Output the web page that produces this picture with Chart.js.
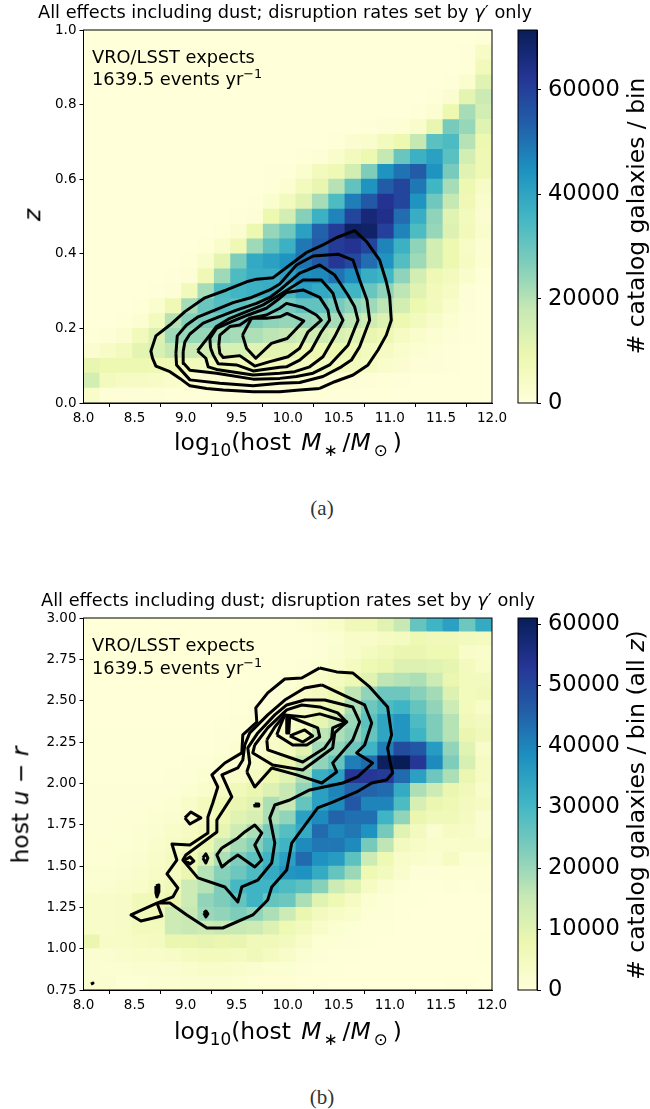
<!DOCTYPE html>
<html>
<head>
<meta charset="utf-8">
<title>Host galaxy maps</title>
<script src="https://cdn.jsdelivr.net/npm/chart.js@4"></script>
<style>
  html, body { margin: 0; padding: 0; background: #fff; }
  #page { position: relative; width: 650px; height: 1109px; overflow: hidden; font-family: "DejaVu Sans", sans-serif; color: #000; }
  canvas { position: absolute; }
  .t { position: absolute; white-space: nowrap; line-height: 1; }
  .title { font-size: 17.75px; }
  .note { font-size: 17.8px; }
  .axis { font-size: 23.4px; transform: translate(-50%, -50%); }
  .rot { font-size: 23.4px; transform: translate(-50%, -50%) rotate(-90deg); }
  .cap { font-family: "Liberation Serif", serif; font-size: 21px; transform: translate(-50%, -50%); color: #333; }
  sub { font-size: 72%; line-height: 0; }
  sup { font-size: 72%; line-height: 0; }
  .star { margin: 0 5px 0 2px; }
  .sun { margin: 0 5px 0 3px; }
  .gap { margin-left: 3px; }
</style>
</head>
<body>
<div id="page">
  <canvas id="mapA" style="left:0;top:0"></canvas>
  <canvas id="barA" style="left:510px;top:0"></canvas>
  <canvas id="mapB" style="left:0;top:588px"></canvas>
  <canvas id="barB" style="left:510px;top:588px"></canvas>

  <div class="t title" style="left:38px;top:4px">All effects including dust; disruption rates set by <i>γ</i>′ only</div>
  <div class="t note" style="left:92px;top:48px">VRO/LSST expects</div>
  <div class="t note" style="left:92px;top:70px">1639.5 events yr<sup>−1</sup></div>
  <div class="t axis" style="left:288px;top:443px">log<sub>10</sub>(host <i class="gap">M</i><sub class="star">∗</sub>/<i>M</i><sub class="sun">⊙</sub>)</div>
  <div class="t rot" style="left:33px;top:215px"><i>z</i></div>
  <div class="t rot" style="left:637px;top:216px"># catalog galaxies / bin</div>
  <div class="t cap" style="left:322px;top:508px">(a)</div>

  <div class="t title" style="left:41px;top:592px">All effects including dust; disruption rates set by <i>γ</i>′ only</div>
  <div class="t note" style="left:92px;top:636px">VRO/LSST expects</div>
  <div class="t note" style="left:92px;top:659px">1639.5 events yr<sup>−1</sup></div>
  <div class="t axis" style="left:288px;top:1032px">log<sub>10</sub>(host <i class="gap">M</i><sub class="star">∗</sub>/<i>M</i><sub class="sun">⊙</sub>)</div>
  <div class="t rot" style="left:21px;top:805px">host <i>u</i> − <i>r</i></div>
  <div class="t rot" style="left:637px;top:805px"># catalog galaxies / bin (all <i>z</i>)</div>
  <div class="t cap" style="left:322px;top:1097px">(b)</div>
</div>

<script>
// tick values
const massTicks = [8, 8.5, 9, 9.5, 10, 10.5, 11, 11.5, 12];
const zTicks = [0, 0.2, 0.4, 0.6, 0.8, 1];
const colorTicks = [0.75, 1, 1.25, 1.5, 1.75, 2, 2.25, 2.5, 2.75, 3];
const barTicksA = [0, 20000, 40000, 60000];
const barTicksB = [0, 10000, 20000, 30000, 40000, 50000, 60000];

// color limits of the two maps
const maxA = 71500;
const maxB = 61000;

// YlGnBu
const ylGnBu = ['#ffffd9', '#edf8b1', '#c7e9b4', '#7fcdbb', '#41b6c4', '#1d91c0', '#225ea8', '#253494', '#081d58'];

// catalog galaxies per bin in thousands, top row first
const countsA = [
  [0,0,0,0,0,0,0,0,0,0,0,0,0,0,0,0,0,0,0,0,0,0,0,0,.3],
  [0,0,0,0,0,0,0,0,0,0,0,0,0,0,0,0,0,0,0,0,0,0,0,.3,4],
  [0,0,0,0,0,0,0,0,0,0,0,0,0,0,0,0,0,0,0,0,0,0,0,.5,7],
  [0,0,0,0,0,0,0,0,0,0,0,0,0,0,0,0,0,0,0,0,0,0,.3,2.5,12],
  [0,0,0,0,0,0,0,0,0,0,0,0,0,0,0,0,0,0,0,0,0,.3,2,11,17],
  [0,0,0,0,0,0,0,0,0,0,0,0,0,0,0,0,0,0,0,0,.5,1.5,9,22,15],
  [0,0,0,0,0,0,0,0,0,0,0,0,0,0,0,0,0,.3,.8,1.2,3,10,28,24,12],
  [0,0,0,0,0,0,0,0,0,0,0,0,0,0,0,.5,2,3,6,9,18,32,34,20,9],
  [0,0,0,0,0,0,0,0,0,0,0,0,0,.5,1,3,6,9,18,30,37,41,32,15,8],
  [0,0,0,0,0,0,0,0,0,0,0,.3,.5,2.5,6,8,15,27,44,50,54,44,28,12,8],
  [0,0,0,0,0,0,0,0,0,0,0,.5,1.5,6,10,20,31,44,54,59,49,36,22,9,4],
  [0,0,0,0,0,0,0,0,0,0,.5,2.5,6,12,22,34,48,55,63,59,44,29,18,8,3],
  [0,0,0,0,0,0,0,0,0,.3,1,9,15,26,37,47,59,67,64,51,38,25,12,6,2],
  [0,0,0,0,0,0,0,0,.5,2,9,24,29,41,53,61,70,69,60,47,34,24,13,7,3],
  [0,0,0,0,0,0,0,.5,3,8,23,31,37,49,54,61,63,59,47,37,25,15,9,4,1.5],
  [0,0,0,0,0,0,.5,3,11,27,39,41,44,50,55,62,58,51,44,33,23,15,9,5,1.5],
  [0,0,0,0,0,.3,1,8,23,34,38,38,41,45,46,50,45,38,36,25,15,8,6,3,.5],
  [0,0,0,0,.3,.8,7,22,34,36,37,38,35,41,39,38,36,30,25,19,12,7,5,1,0],
  [0,0,0,.5,2.5,8,22,30,33,32,30,30,28,31,31,28,25,23,19,15,9,6,3,.8,0],
  [0,0,.5,1.5,6,20,26,28,29,28,27,25,24,25,24,22,19,16,13,9,6,3.5,1.5,.5,0],
  [.5,1,2,7,13,23,24,24,23,22,21,19,18,16,16,14,12,10,8,5,3,1.5,.8,.3,0],
  [2,4,6,11,14,18,17,15,14,14,12,11,11,9,9,9,8,6,5,3,1.8,1,.5,0,0],
  [10,9,9,9,8,8,7,7,7,7,7,7,6,6,6,6,6,5,3,2,1,.8,.3,0,0],
  [15,6,5,5,4,3,2,2,2,2,2,2,1.5,1.5,1.5,1.2,1,.8,.5,.3,0,0,0,0,0],
  [3.5,1,1,.8,.8,.5,.5,.5,.5,.5,.5,.5,.5,.5,.4,.3,.3,.2,.2,0,0,0,0,0,0]
];

const countsB = [
  [.2,.2,.2,.2,.2,.2,.2,.2,.2,.2,.2,.2,.5,1,2,3,6,6.5,10,15,26,31,35,25,33],
  [.2,.2,.2,.2,.2,.2,.2,.2,.2,.2,.2,.2,.3,.4,.7,1.5,3,3,4,4.5,7,6,6,5,4.5],
  [.2,.2,.2,.2,.2,.2,.2,.2,.2,.2,.2,.2,.3,.4,1,2,3,4.5,6,8,8,7,7,3,2.5],
  [.2,.2,.2,.2,.2,.2,.2,.2,.2,.2,.2,.3,.5,.8,1.5,2.5,4.5,7,8,11,11,10,9,5,3],
  [.2,.2,.2,.2,.2,.2,.2,.2,.2,.2,.3,.5,1,2,3,4.5,7,10,16,17,18,14,8,5.5,5],
  [.2,.2,.2,.2,.2,.2,.2,.2,.2,.3,.5,.8,1.5,3,4.5,7,16,21,25,25,22,19,11,5.5,6],
  [.2,.2,.2,.2,.2,.2,.2,.2,.2,.4,.7,1.2,2,3.5,6,9,18,25,29,31,26,21,14,5.5,3],
  [.2,.2,.2,.2,.2,.2,.2,.2,.4,.6,1,1.8,2.5,4,9,14,20,27,34,37,29,23,17,6,5],
  [.3,.3,.3,.3,.3,.3,.3,.3,.6,1,1.5,2.5,3,6,16,18,21,26,34,37,31,23,17,8,6],
  [.3,.3,.3,.3,.3,.3,.3,.5,1,1.5,2,3,5,10,19,21,25,31,41,49,47,36,21,10,3],
  [.4,.4,.4,.4,.4,.4,.6,1,1.5,2,3,5,8,15,21,26,41,44,60,61,53,39,23,12,4],
  [.5,.5,.5,.5,.5,.6,1,1.5,2,3,4.5,7,10,18,32,35,53,53,52,44,35,25,18,8,4],
  [.6,.6,.6,.6,.6,.8,1.5,2.5,4,6,8,11,15,21,35,40,45,45,44,33,18,14,8,6,3],
  [.7,.7,.7,.7,1,1.5,3,5.5,7,8,10,18,15,26,35,39,47,40,40,29,12,8,7,5,4],
  [.8,.8,.9,1,1.5,2,3,4,7,10,12,18,21,35,39,45,43,43,31,21,8,6,6,4.5,2],
  [.8,.8,1,1.5,2,3,4,6,9,14,18,24,28,33,44,40,42,38,24,10,5,2,4,3.5,2],
  [1,1,1.2,1.5,2.5,3.5,5,8,14,19,22,28,31,39,42,42,39,24,16,5,3.5,2.5,2.5,3,3],
  [1,1,1.5,2,3,4.5,7,11,18,23,27,31,35,44,38,36,27,14,7,3,2.5,2,4,1.5,1.5],
  [1.5,1.5,2,2.5,3.5,4.5,8,17,22,25,29,33,37,38,33,26,20,7,5,2.5,.8,.8,1,1,1],
  [1.5,2,2.5,3,4.5,6,14,17,23,30,31,31,29,27,22,14,10,4,2,1,.5,.4,.8,.5,.7],
  [3,3,3.5,6,6.5,8,14,21,23,26,31,26,25,18,10,7,4,1.5,1,.5,.3,.2,.2,.2,.2],
  [3,3,3.5,6,6,14,15,20,21,23,21,18,14,8,5,3.5,2.5,1,.6,.3,.2,.2,.2,.2,.2],
  [3,3,3.5,5.5,5.5,14,15,14,15,15,14,11,7,5,3,1.5,1.2,.5,.3,.2,.1,.1,.1,.1,.1],
  [8,3.5,3.5,4,4.5,8,8,9,8,8.5,6,6,5,3,1.2,1,.8,.3,.2,.1,.1,.1,.1,.1,.5],
  [2,2,2.5,3,3,3.5,4.5,5.5,5.5,4.5,6,4.5,3,1.5,.8,.5,.4,.2,.1,.1,.1,.1,.1,.1,.5],
  [2,1.5,1.5,2,2,2,2.5,3,3,2.5,2,1.5,1.5,.8,.4,.3,.2,.1,.1,.1,.1,.1,.1,.1,.1],
  [2,2,1.2,1.2,1.5,1.5,2,2,2,1.5,1,1,1,.5,.3,.2,.1,.1,.1,.1,.1,.1,.3,.3,.1]
];

// contours, log mass / z pairs
const contoursA = [
  [[10.313,.039],[10.117,.035],[9.922,.03],[9.661,.03],[9.368,.035],[9.205,.039],[9.042,.046],[8.944,.066],[8.846,.084],[8.709,.099],[8.676,.12],[8.66,.139],[8.709,.18],[8.846,.209],[8.993,.245],[9.188,.282],[9.4,.303],[9.596,.325],[9.694,.332],[9.857,.336],[10.02,.37],[10.18,.403],[10.345,.424],[10.476,.443],[10.655,.462],[10.77,.433],[10.9,.383],[10.965,.325],[10.998,.285],[11.014,.222],[10.965,.182],[10.884,.142],[10.786,.102],[10.64,.075],[10.46,.057]],
  [[8.905,.133],[8.918,.18],[9.009,.209],[9.123,.231],[9.286,.249],[9.465,.269],[9.645,.283],[9.824,.303],[9.922,.319],[10.085,.37],[10.248,.394],[10.492,.399],[10.639,.383],[10.704,.33],[10.776,.276],[10.802,.222],[10.704,.151],[10.623,.115],[10.525,.097],[10.345,.071],[10.117,.055],[9.922,.053],[9.661,.046],[9.335,.053],[9.042,.062],[8.911,.102]],
  [[8.976,.138],[8.993,.164],[9.042,.185],[9.172,.214],[9.319,.23],[9.498,.249],[9.694,.267],[9.824,.283],[9.922,.303],[10.117,.348],[10.313,.37],[10.46,.343],[10.59,.289],[10.655,.258],[10.688,.222],[10.59,.155],[10.41,.102],[10.248,.08],[10.085,.071],[9.922,.066],[9.661,.064],[9.302,.08],[9.042,.088],[8.983,.106]],
  [[9.117,.14],[9.237,.182],[9.302,.205],[9.433,.227],[9.596,.245],[9.759,.263],[9.922,.29],[10.15,.33],[10.329,.33],[10.443,.294],[10.492,.249],[10.541,.222],[10.46,.178],[10.345,.124],[10.215,.097],[10.068,.084],[9.922,.08],[9.661,.075],[9.302,.09],[9.221,.097],[9.198,.12]],
  [[9.244,.147],[9.237,.173],[9.302,.2],[9.449,.218],[9.612,.236],[9.791,.254],[9.922,.281],[9.987,.296],[10.15,.303],[10.313,.283],[10.394,.249],[10.41,.222],[10.329,.191],[10.231,.142],[10.117,.115],[9.987,.097],[9.922,.096],[9.661,.086],[9.498,.102],[9.319,.105],[9.27,.129]],
  [[9.325,.155],[9.335,.182],[9.433,.205],[9.53,.209],[9.628,.227],[9.791,.236],[9.922,.254],[9.987,.267],[10.15,.256],[10.28,.236],[10.329,.222],[10.199,.191],[10.117,.147],[10.003,.124],[9.922,.118],[9.824,.111],[9.677,.099],[9.53,.127],[9.368,.122],[9.335,.133]],
  [[9.557,.182],[9.645,.227],[9.791,.227],[9.922,.231],[9.994,.24],[10.157,.22],[9.994,.173],[9.922,.167],[9.84,.16],[9.687,.12],[9.596,.147]]
];

// contours, log mass / host u-r pairs
const contoursB = [
  [[10.313,2.698],[10.479,2.674],[10.636,2.668],[10.802,2.583],[10.978,2.462],[11.017,2.293],[10.978,2.214],[10.998,2.141],[11.027,2.063],[10.968,2.02],[10.822,2.002],[10.675,1.948],[10.44,1.887],[10.293,1.851],[10.039,1.639],[9.99,1.476],[9.843,1.373],[9.804,1.294],[9.658,1.204],[9.364,1.125],[9.208,1.125],[9.012,1.204],[8.846,1.276],[8.719,1.276],[8.768,1.198],[8.562,1.167],[8.465,1.204],[8.719,1.276],[8.875,1.313],[8.924,1.367],[8.817,1.452],[8.914,1.536],[8.866,1.633],[9.042,1.627],[9.218,1.7],[9.218,1.797],[9.266,1.881],[9.315,1.978],[9.257,2.051],[9.384,2.123],[9.55,2.184],[9.56,2.293],[9.697,2.371],[9.687,2.456],[9.804,2.547],[9.971,2.631],[10.137,2.637]],
  [[10.333,2.595],[10.587,2.522],[10.753,2.474],[10.822,2.365],[10.753,2.232],[10.675,2.184],[10.831,2.123],[10.685,2.039],[10.538,2.002],[10.215,1.96],[10.02,1.899],[9.873,1.869],[9.824,1.791],[9.873,1.639],[9.843,1.518],[9.707,1.415],[9.55,1.373],[9.511,1.282],[9.384,1.373],[9.12,1.428],[8.973,1.536],[9.002,1.567],[9.306,1.706],[9.306,1.778],[9.452,1.918],[9.355,2.051],[9.511,2.093],[9.56,2.141],[9.579,2.232],[9.628,2.305],[9.804,2.414],[9.971,2.504],[10.166,2.577]],
  [[9.355,1.609],[9.511,1.67],[9.579,1.706],[9.677,1.748],[9.746,1.7],[9.677,1.627],[9.746,1.536],[9.677,1.494],[9.511,1.567],[9.413,1.524],[9.355,1.494],[9.306,1.567]],
  [[9.599,2.069],[9.628,2.123],[9.609,2.214],[9.707,2.305],[9.873,2.414],[9.99,2.474],[10.166,2.504],[10.362,2.504],[10.636,2.462],[10.704,2.371],[10.636,2.262],[10.44,2.123],[10.479,2.069],[10.333,2.002],[10.088,2.051],[9.843,2.093],[9.677,1.978]],
  [[9.677,2.232],[9.658,2.184],[9.853,2.111],[10.147,2.081],[10.44,2.214],[10.46,2.305],[10.577,2.371],[10.489,2.426],[10.313,2.462],[10.137,2.474],[9.99,2.444],[9.804,2.335]],
  [[9.795,2.262],[9.804,2.202],[10.147,2.129],[10.362,2.214],[10.43,2.274],[10.44,2.335],[10.577,2.371],[10.313,2.42],[10.166,2.402],[9.971,2.414],[9.873,2.341]],
  [[9.892,2.293],[10.049,2.232],[10.186,2.232],[10.313,2.281],[10.293,2.335],[10.098,2.383],[9.971,2.414],[9.922,2.341]],
  [[10.02,2.287],[10.166,2.323],[10.244,2.287],[10.147,2.25]],
  [[9.99,2.408],[10.02,2.408],[10.01,2.305],[9.99,2.305]],
  [[8.993,1.791],[9.051,1.827],[9.149,1.791],[9.042,1.754]],
  [[8.993,1.536],[9.042,1.555],[9.081,1.53],[9.042,1.512]],
  [[9.169,1.549],[9.198,1.573],[9.218,1.549],[9.198,1.518]],
  [[9.677,1.875],[9.716,1.875],[9.716,1.863],[9.677,1.863]],
  [[8.709,1.379],[8.738,1.385],[8.738,1.343],[8.719,1.313],[8.709,1.337]],
  [[9.178,1.216],[9.198,1.228],[9.218,1.21],[9.198,1.192]],
  [[8.073,.786],[8.093,.792]]
];

function hexToRgb(h) {
    return [parseInt(h.slice(1, 3), 16), parseInt(h.slice(3, 5), 16), parseInt(h.slice(5, 7), 16)];
}

function colorFor(v, max) {
    let t = Math.min(v / max, 1) * (ylGnBu.length - 1);
    let i = Math.min(Math.floor(t), ylGnBu.length - 2);
    let a = hexToRgb(ylGnBu[i]), b = hexToRgb(ylGnBu[i + 1]), f = t - i;
    return 'rgb(' + [0, 1, 2].map(k => Math.round(a[k] + (b[k] - a[k]) * f)).join(',') + ')';
}

// black box round the plot area
const framePlugin = {
    id: 'frame',
    afterDraw(chart) {
        let a = chart.chartArea, c = chart.ctx;
        c.save();
        c.strokeStyle = '#000';
        c.lineWidth = 1;
        c.strokeRect(a.left, a.top, a.right - a.left, a.bottom - a.top);
        c.restore();
    }
};

function axisStyle() {
    return {
        grid: { drawOnChartArea: false, color: '#000', tickLength: 4, tickWidth: 1 },
        border: { color: '#000' }
    };
}

function drawMap(id, rows, max, yMin, yMax, yTicks, yDigits, contours, axisHeight) {
    let canvas = document.getElementById(id);
    canvas.width = 510;
    canvas.height = 440;

    let binX = 4 / rows[0].length, binY = (yMax - yMin) / rows.length;
    let cells = [], colors = [];
    rows.forEach((row, r) => {
        row.forEach((v, c) => {
            cells.push({ x: 8 + (c + 0.5) * binX, y: [yMax - (r + 1) * binY, yMax - r * binY] });
            colors.push(colorFor(v * 1000, max));
        });
    });

    let datasets = [{
        type: 'bar', data: cells, backgroundColor: colors, borderWidth: 0,
        barPercentage: 1, categoryPercentage: 1, order: 2
    }];
    contours.forEach(line => {
        datasets.push({
            type: 'scatter', showLine: true, order: 1,
            data: line.concat([line[0]]).map(p => ({ x: p[0], y: p[1] })),
            borderColor: '#000', borderWidth: 3, borderJoinStyle: 'round',
            pointRadius: 0, tension: 0, fill: false
        });
    });

    return new Chart(canvas.getContext('2d'), {
        type: 'bar',
        data: { datasets: datasets },
        plugins: [framePlugin],
        options: {
            responsive: false,
            animation: false,
            layout: { padding: { top: 30, right: 18, left: 0, bottom: 0 } },
            plugins: { legend: { display: false }, tooltip: { enabled: false } },
            scales: {
                x: Object.assign(axisStyle(), {
                    type: 'linear', min: 8, max: 12, offset: false,
                    afterBuildTicks: s => { s.ticks = massTicks.map(v => ({ value: v })); },
                    afterFit: s => { s.height = axisHeight; s.paddingLeft = 0; s.paddingRight = 0; },
                    ticks: {
                        autoSkip: false, maxRotation: 0, padding: 3, color: '#000',
                        font: { family: 'DejaVu Sans', size: 13.5 },
                        callback: v => v.toFixed(1)
                    }
                }),
                y: Object.assign(axisStyle(), {
                    type: 'linear', min: yMin, max: yMax,
                    afterBuildTicks: s => { s.ticks = yTicks.map(v => ({ value: v })); },
                    afterFit: s => { s.width = 83.5; s.paddingTop = 0; s.paddingBottom = 0; },
                    ticks: {
                        autoSkip: false, padding: 3, color: '#000',
                        font: { family: 'DejaVu Sans', size: 13.5 },
                        callback: v => v.toFixed(yDigits)
                    }
                })
            }
        }
    });
}

function drawColorbar(id, max, ticks, axisHeight) {
    let canvas = document.getElementById(id);
    canvas.width = 140;
    canvas.height = 440;

    let ramp = ctx => {
        let a = ctx.chart.chartArea;
        if (!a) return ylGnBu[0];
        let g = ctx.chart.ctx.createLinearGradient(0, a.bottom, 0, a.top);
        ylGnBu.forEach((c, i) => g.addColorStop(i / (ylGnBu.length - 1), c));
        return g;
    };

    return new Chart(canvas.getContext('2d'), {
        type: 'bar',
        data: {
            labels: [''],
            datasets: [{ data: [[0, max]], backgroundColor: ramp, borderWidth: 0, barPercentage: 1, categoryPercentage: 1 }]
        },
        plugins: [framePlugin],
        options: {
            responsive: false,
            animation: false,
            layout: { padding: { top: 30, left: 8, right: 0, bottom: axisHeight } },
            plugins: { legend: { display: false }, tooltip: { enabled: false } },
            scales: {
                x: { display: false },
                y: Object.assign(axisStyle(), {
                    position: 'right', type: 'linear', min: 0, max: max,
                    afterBuildTicks: s => { s.ticks = ticks.map(v => ({ value: v })); },
                    afterFit: s => { s.width = 113; s.paddingTop = 0; s.paddingBottom = 0; },
                    ticks: {
                        autoSkip: false, padding: 7, color: '#000',
                        font: { family: 'DejaVu Sans', size: 22.6 },
                        callback: v => String(v)
                    }
                })
            }
        }
    });
}

drawMap('mapA', countsA, maxA, 0, 1, zTicks, 1, contoursA, 37);
drawColorbar('barA', maxA, barTicksA, 37);
drawMap('mapB', countsB, maxB, 0.75, 3, colorTicks, 2, contoursB, 38);
drawColorbar('barB', maxB, barTicksB, 38);
</script>
</body>
</html>
